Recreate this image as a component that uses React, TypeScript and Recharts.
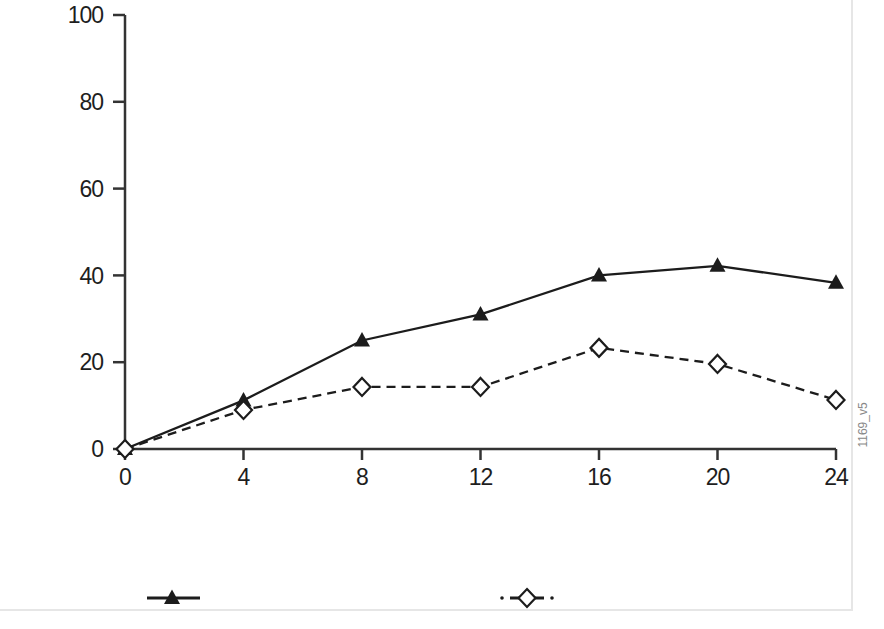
import { LineChart, Line, XAxis, YAxis, Legend } from 'recharts';

const hours = [0, 4, 8, 12, 16, 20, 24];
const solidValues = [0, 11.2, 25, 31, 40, 42.2, 38.3];
const dashedValues = [0, 9, 14.3, 14.3, 23.3, 19.6, 11.3];
const yTicks = [0, 20, 40, 60, 80, 100];

const data = hours.map((h, i) => ({ h, solid: solidValues[i], dashed: dashedValues[i] }));

const ink = '#1c1c1c';
const font = 'Liberation Sans, Arial, sans-serif';

const Triangle = (props: any) => {
  const { cx, cy } = props;
  if (cx == null || cy == null) return null;
  return <path d={`M${cx},${cy - 8.5} L${cx + 8},${cy + 6} L${cx - 8},${cy + 6} Z`} fill={ink} />;
};

const Diamond = (props: any) => {
  const { cx, cy } = props;
  if (cx == null || cy == null) return null;
  return (
    <path
      d={`M${cx},${cy - 9} L${cx + 8.5},${cy} L${cx},${cy + 9} L${cx - 8.5},${cy} Z`}
      fill="#fff"
      stroke={ink}
      strokeWidth={2.2}
    />
  );
};

const YTick = (props: any) => {
  const { x, y, payload } = props;
  return (
    <text x={x} y={y} dy="0.36em" textAnchor="end" fontSize={23} fill="#1e1e1e" fontFamily={font} letterSpacing={-1}>
      {payload.value}
    </text>
  );
};

const XTick = (props: any) => {
  const { x, y, payload } = props;
  return (
    <text x={x} y={y} dy="0.71em" textAnchor="middle" fontSize={23} fill="#1e1e1e" fontFamily={font} letterSpacing={-1}>
      {payload.value}
    </text>
  );
};

// legend without labels, just the two symbols
const LegendKeys = () => (
  <div style={{ height: 0 }}>
    <svg width={884} height={30} style={{ overflow: 'visible', display: 'block' }}>
      <line x1={147} y1={13} x2={200} y2={13} stroke={ink} strokeWidth={3} />
      <Triangle cx={172} cy={13} />
      <circle cx={502} cy={13} r={1.8} fill={ink} />
      <line x1={510} y1={13} x2={544} y2={13} stroke={ink} strokeWidth={3} />
      <circle cx={552} cy={13} r={1.8} fill={ink} />
      <Diamond cx={527} cy={13} />
    </svg>
  </div>
);

export default function App() {
  return (
    <div style={{ position: 'relative', width: 884, height: 629, background: '#fff' }}>
      <style>{'body{margin:0}'}</style>
      <svg width={884} height={629} style={{ position: 'absolute', left: 0, top: 0, pointerEvents: 'none' }}>
        <line x1={852} y1={0} x2={852} y2={611} stroke="#e6e6e6" strokeWidth={2} />
        <line x1={0} y1={610} x2={852} y2={610} stroke="#e6e6e6" strokeWidth={2} />
        <text transform="translate(867,425) rotate(-90)" textAnchor="middle" fontSize={12} fill="#888" fontFamily={font}>
          1169_v5
        </text>
      </svg>
      <LineChart width={884} height={629} data={data} margin={{ top: 15, right: 48, left: 65, bottom: 150 }}>
        <XAxis
          dataKey="h"
          type="number"
          domain={[0, 24]}
          ticks={hours}
          height={30}
          stroke="#333"
          strokeWidth={2.5}
          tickSize={11}
          tickMargin={9}
          tick={<XTick />}
          tickLine={{ stroke: '#333', strokeWidth: 2.5 }}
        />
        <YAxis
          type="number"
          domain={[0, 100]}
          ticks={yTicks}
          width={60}
          stroke="#333"
          strokeWidth={2.5}
          tickSize={12}
          tickMargin={10}
          tick={<YTick />}
          tickLine={{ stroke: '#333', strokeWidth: 2.5 }}
        />
        <Legend
          content={<LegendKeys />}
          wrapperStyle={{ position: 'absolute', left: 0, top: 585, width: 884 }}
        />
        <Line
          dataKey="solid"
          stroke={ink}
          strokeWidth={2.3}
          dot={<Triangle />}
          activeDot={false}
          isAnimationActive={false}
        />
        <Line
          dataKey="dashed"
          stroke={ink}
          strokeWidth={2.3}
          strokeDasharray="9 6"
          dot={<Diamond />}
          activeDot={false}
          isAnimationActive={false}
        />
      </LineChart>
    </div>
  );
}
